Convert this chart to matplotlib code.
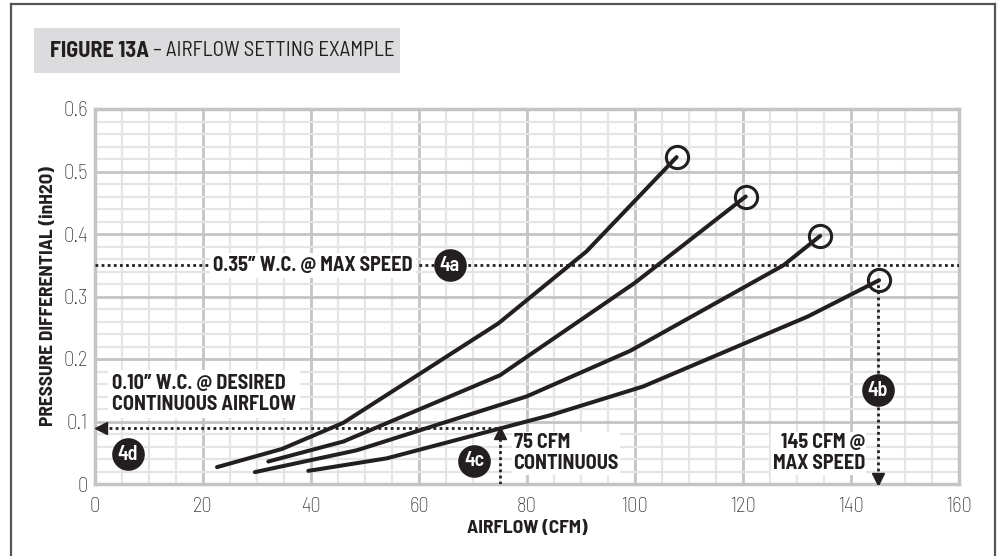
import matplotlib
matplotlib.use("Agg")
import matplotlib.pyplot as plt
from matplotlib.patches import Rectangle
from matplotlib.lines import Line2D
from matplotlib import font_manager as fm
import numpy as np

# ---- data ----
s1_x = [22.6, 34.6, 46.0, 74.7, 91.0, 107.7]
s1_y = [0.027, 0.056, 0.098, 0.257, 0.372, 0.523]
s2_x = [32.1, 46.0, 75.0, 100.0, 120.5]
s2_y = [0.036, 0.068, 0.174, 0.322, 0.460]
s3_x = [29.6, 48.5, 79.9, 99.1, 127.5, 134.3]
s3_y = [0.019, 0.054, 0.140, 0.213, 0.350, 0.397]
s4_x = [39.5, 54.0, 84.3, 101.5, 132.0, 145.2]
s4_y = [0.021, 0.041, 0.110, 0.156, 0.268, 0.326]

max_pressure = 0.35
cont_pressure = 0.09
cont_cfm = 75
max_cfm = 145

x_ticks = [0, 20, 40, 60, 80, 100, 120, 140, 160]
y_ticks = [0, 0.1, 0.2, 0.3, 0.4, 0.5, 0.6]
y_tick_labels = ["0", "0.1", "0.2", "0.3", "0.4", "0.5", "0.6"]

avail = {f.name for f in fm.fontManager.ttflist}
FAM = None
for cand in ["Barlow Semi Condensed", "Encode Sans Semi Condensed", "Fira Sans Condensed",
             "IBM Plex Sans Condensed", "Archivo Narrow", "Liberation Sans Narrow"]:
    if cand in avail:
        FAM = cand
        break
scale = 1.0
if FAM is None:
    FAM = "DejaVu Sans"
    scale = 0.78
plt.rcParams['font.family'] = [FAM, "DejaVu Sans"]

def fs(v):
    return v * scale

fig = plt.figure(figsize=(9.98, 5.56), dpi=100)
W, H = 998, 556

# outer frame (open at bottom)
fc = "#555555"
for xs_, ys_ in [([11, 11], [556, 4]), ([11, 995], [4, 4]), ([995, 995], [4, 556])]:
    fig.add_artist(Line2D([v / W for v in xs_], [1 - v / H for v in ys_], color=fc, lw=1.6,
                          transform=fig.transFigure))

# title bar
fig.add_artist(Rectangle((34 / W, 1 - 73 / H), (400 - 34) / W, 45 / H, transform=fig.transFigure,
                         facecolor="#dcdcde", edgecolor="none"))
t1 = fig.text(50 / W, 1 - 51 / H, "FIGURE 13A", fontsize=fs(16), fontweight="bold", color="#231f20",
              va="center", ha="left")
fig.canvas.draw()
bb = t1.get_window_extent()
fig.text(bb.x1 / W, 1 - 51 / H, " – AIRFLOW SETTING EXAMPLE", fontsize=fs(15), color="#231f20",
         va="center", ha="left", fontweight="normal")

ax = fig.add_axes([95 / W, 1 - 484 / H, (959 - 95) / W, (484 - 109) / H])
ax.set_xlim(0, 160)
ax.set_ylim(0, 0.6)
ax.set_xticks(x_ticks)
ax.set_yticks(y_ticks)
ax.set_yticklabels(y_tick_labels)
ax.set_xticks(np.arange(0, 161, 5), minor=True)
ax.set_yticks(np.arange(0, 0.601, 0.02), minor=True)
ax.grid(which="minor", color="#e5e5e7", lw=1.6, zorder=0)
ax.grid(which="major", color="#c4c4c8", lw=2.0, zorder=0.5)
ax.set_axisbelow(True)
for sp in ax.spines.values():
    sp.set_color("#c4c4c8")
    sp.set_linewidth(2.5)
ax.tick_params(which="both", length=0, labelsize=fs(15), labelcolor="#1e1e1e")
ax.tick_params(axis="x", pad=9)
ax.tick_params(axis="y", pad=5)
for lbl in ax.get_xticklabels() + ax.get_yticklabels():
    lbl.set_fontweight("light")

ax.set_xlabel("AIRFLOW (CFM)", fontsize=fs(14), fontweight="bold", color="#231f20", labelpad=3)
ax.set_ylabel("PRESSURE DIFFERENTIAL (inH2O)", fontsize=fs(14), fontweight="bold", color="#231f20",
              labelpad=5)

LC = "#231f20"
for xs, ys in [(s1_x, s1_y), (s2_x, s2_y), (s3_x, s3_y), (s4_x, s4_y)]:
    ax.plot(xs, ys, color=LC, lw=2.9, solid_capstyle="round", solid_joinstyle="round", zorder=5)
    ax.plot(xs[-1], ys[-1], marker="o", ms=16, mfc="none", mec=LC, mew=2.2, zorder=6)

dot = dict(color=LC, lw=2.0, linestyle=(0, (1, 1.2)), zorder=4)
ANN = fs(14.5)
# 0.35 line
ax.plot([0, 160], [max_pressure, max_pressure], **dot)
ax.text(21.9, max_pressure, "0.35″ W.C. @ MAX SPEED", fontsize=ANN, fontweight="bold", color=LC,
        va="center", ha="left", zorder=7,
        bbox=dict(facecolor="white", edgecolor="none", pad=2))
# continuous horizontal line
ax.plot([1.5, cont_cfm], [cont_pressure, cont_pressure], **dot)
ax.plot(1.2, cont_pressure, marker="<", ms=9, color=LC, zorder=6)
# vertical 75
ax.plot([cont_cfm, cont_cfm], [0, cont_pressure - 0.01], **dot)
ax.plot(cont_cfm, cont_pressure - 0.008, marker="^", ms=9, color=LC, zorder=6)
# vertical 145
ax.plot([max_cfm, max_cfm], [0.012, 0.326], **dot)
ax.plot(max_cfm, 0.008, marker="v", ms=9, color=LC, zorder=6)

ax.text(3.1, 0.144, "0.10″ W.C. @ DESIRED\nCONTINUOUS AIRFLOW", fontsize=ANN, fontweight="bold",
        color=LC, va="center", ha="left", linespacing=1.12, zorder=7,
        bbox=dict(facecolor="white", edgecolor="none", pad=3))
ax.text(77.5, 0.0495, "75 CFM\nCONTINUOUS", fontsize=ANN, fontweight="bold",
        color=LC, va="center", ha="left", linespacing=1.15, zorder=7,
        bbox=dict(facecolor="white", edgecolor="none", pad=1))
ax.text(142.6, 0.0495, "145 CFM @\nMAX SPEED", fontsize=ANN, fontweight="bold",
        color=LC, va="center", ha="right", linespacing=1.15, zorder=7,
        bbox=dict(facecolor="white", edgecolor="none", pad=1))

badges = [("4a", 65.7, max_pressure), ("4b", max_cfm, 0.15), ("4c", 70.2, 0.037), ("4d", 6.1, 0.048)]
for lab, bx, by in badges:
    ax.plot(bx, by, marker="o", ms=23.5, color=LC, mec=LC, mew=0, zorder=8)
    ax.text(bx, by, lab, color="white", fontsize=fs(14.5), fontweight="semibold", ha="center",
            va="center", zorder=9)

fig.savefig("out.png", dpi=100)
